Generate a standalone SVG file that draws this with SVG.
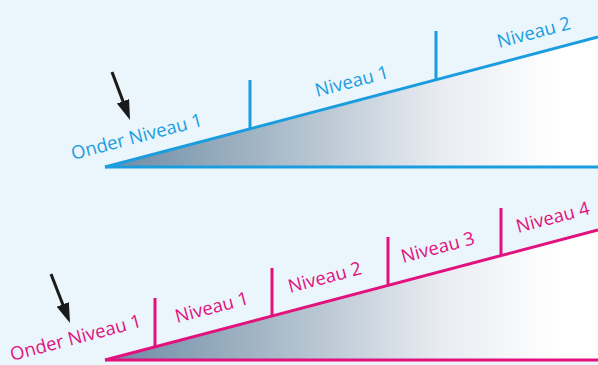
<svg xmlns="http://www.w3.org/2000/svg" width="598" height="365" viewBox="0 0 598 365">
<defs>
<linearGradient id="fade" gradientUnits="userSpaceOnUse" x1="105" y1="0" x2="598" y2="0">
<stop offset="0" stop-color="#6c8aa3"/>
<stop offset="0.4" stop-color="#b3c2cf"/>
<stop offset="0.68" stop-color="#e8ecf1"/>
<stop offset="0.92" stop-color="#ffffff"/>
</linearGradient>
<marker id="head" markerUnits="userSpaceOnUse" markerWidth="20" markerHeight="14" refX="6" refY="6.5" orient="auto">
<path d="M0,0 L20,6.5 L0,13 z" fill="#1a1a1a"/>
</marker>
</defs>
<style>
.blue{stroke:#1a9ddf;stroke-width:3;fill:none}
.pink{stroke:#e2117d;stroke-width:3;fill:none}
.tb{fill:#1a9ddf;font-family:"Open Sans","Noto Sans",sans-serif;font-size:18.5px}
.tp{fill:#e2117d;font-family:"Open Sans","Noto Sans",sans-serif;font-size:18.5px}
.arrow{stroke:#1a1a1a;stroke-width:3;fill:none;marker-end:url(#head)}
</style>
<rect x="0" y="0" width="598" height="365" fill="#eaf5fc"/>
<g id="top-ramp">
<polygon points="105,167 598,37 598,167" fill="url(#fade)"/>
</g>
<g id="bottom-ramp">
<polygon points="105,360 598,230 598,360" fill="url(#fade)"/>
</g>
<g id="connectors">
<line class="arrow" x1="112" y1="72" x2="125.1" y2="106.9"/>
<line class="arrow" x1="51" y1="274" x2="64.95" y2="309.95"/>
</g>
<g id="top-scale">
<line class="blue" x1="105" y1="167" x2="598" y2="167"/>
<line class="blue" x1="105" y1="167" x2="598" y2="37"/>
<line class="blue" x1="250" y1="80" x2="250" y2="128"/>
<line class="blue" x1="436" y1="31" x2="436" y2="79"/>
</g>
<g id="top-labels">
<text class="tb" transform="translate(73,160) rotate(-14.77)">Onder Niveau 1</text>
<text class="tb" transform="translate(317,97) rotate(-14.77)">Niveau 1</text>
<text class="tb" transform="translate(499,48) rotate(-14.77)">Niveau 2</text>
</g>
<g id="bottom-scale">
<line class="pink" x1="105" y1="360" x2="598" y2="360"/>
<line class="pink" x1="105" y1="360" x2="598" y2="230"/>
<line class="pink" x1="155" y1="298" x2="155" y2="347"/>
<line class="pink" x1="272" y1="268" x2="272" y2="316"/>
<line class="pink" x1="388" y1="237" x2="388" y2="285"/>
<line class="pink" x1="501" y1="208" x2="501" y2="256"/>
</g>
<g id="bottom-labels">
<text class="tp" transform="translate(12,361) rotate(-14.77)">Onder Niveau 1</text>
<text class="tp" transform="translate(177,323) rotate(-14.77)">Niveau 1</text>
<text class="tp" transform="translate(290,293) rotate(-14.77)">Niveau 2</text>
<text class="tp" transform="translate(403,263) rotate(-14.77)">Niveau 3</text>
<text class="tp" transform="translate(518,233) rotate(-14.77)">Niveau 4</text>
</g>
</svg>
